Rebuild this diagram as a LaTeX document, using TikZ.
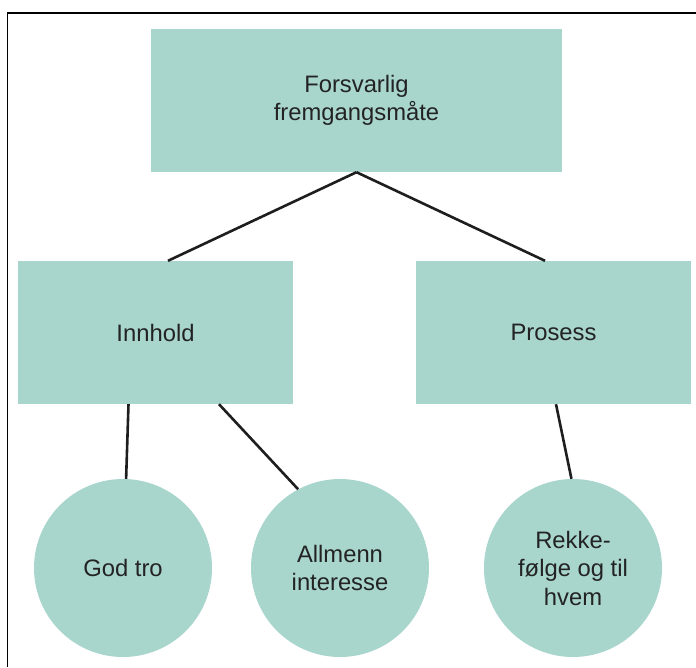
\documentclass[tikz,border=0pt]{standalone}
\usepackage{fontspec}
\setmainfont{Liberation Sans}
\usetikzlibrary{positioning}
\definecolor{boxgreen}{RGB}{168,214,205}
\definecolor{txtgray}{RGB}{35,35,35}
\definecolor{linegray}{RGB}{30,30,30}
\tikzset{
  topbox/.style={fill=boxgreen, minimum width=411pt, minimum height=143pt,
                 align=center, text=txtgray, font=\fontsize{23.8}{28.5}\selectfont},
  subbox/.style={topbox, minimum width=275pt},
  leaf/.style={circle, fill=boxgreen, minimum size=178pt, inner sep=0pt,
               align=center, text=txtgray, font=\fontsize{23.8}{28.5}\selectfont},
  link/.style={linegray, line width=2.6pt},
}

\begin{document}
\begin{tikzpicture}[x=1pt, y=-1pt]
    \useasboundingbox (0,0) rectangle (696,667);
    % frame
    \draw[black, line width=1.4pt] (7.5,667) -- (7.5,13) -- (696,13);
    % boxes
    \node[topbox] (forsvarlig) at (356.5,100.5) {Forsvarlig\\fremgangsmåte};
    \node[subbox] (innhold) at (155.5,332.5) {Innhold};
    \node[subbox] (prosess) at (553.5,332.5) {Prosess};
    % circles
    \node[leaf] (godtro) at (123,568) {God tro};
    \node[leaf] (allmenn) at (340,568) {Allmenn\\interesse};
    \node[leaf] (rekke) at (573,568) {Rekke-\\følge og til\\hvem};
    % links
    \draw[link] (forsvarlig.south) -- ([xshift=12.5pt]innhold.north);
    \draw[link] (forsvarlig.south) -- ([xshift=-8.5pt]prosess.north);
    \draw[link] ([xshift=-27pt]innhold.south) -- (godtro.88);
    \draw[link] ([xshift=63.5pt]innhold.south) -- (allmenn.118);
    \draw[link] ([xshift=2.5pt]prosess.south) -- (rekke.91);
\end{tikzpicture}
\end{document}
